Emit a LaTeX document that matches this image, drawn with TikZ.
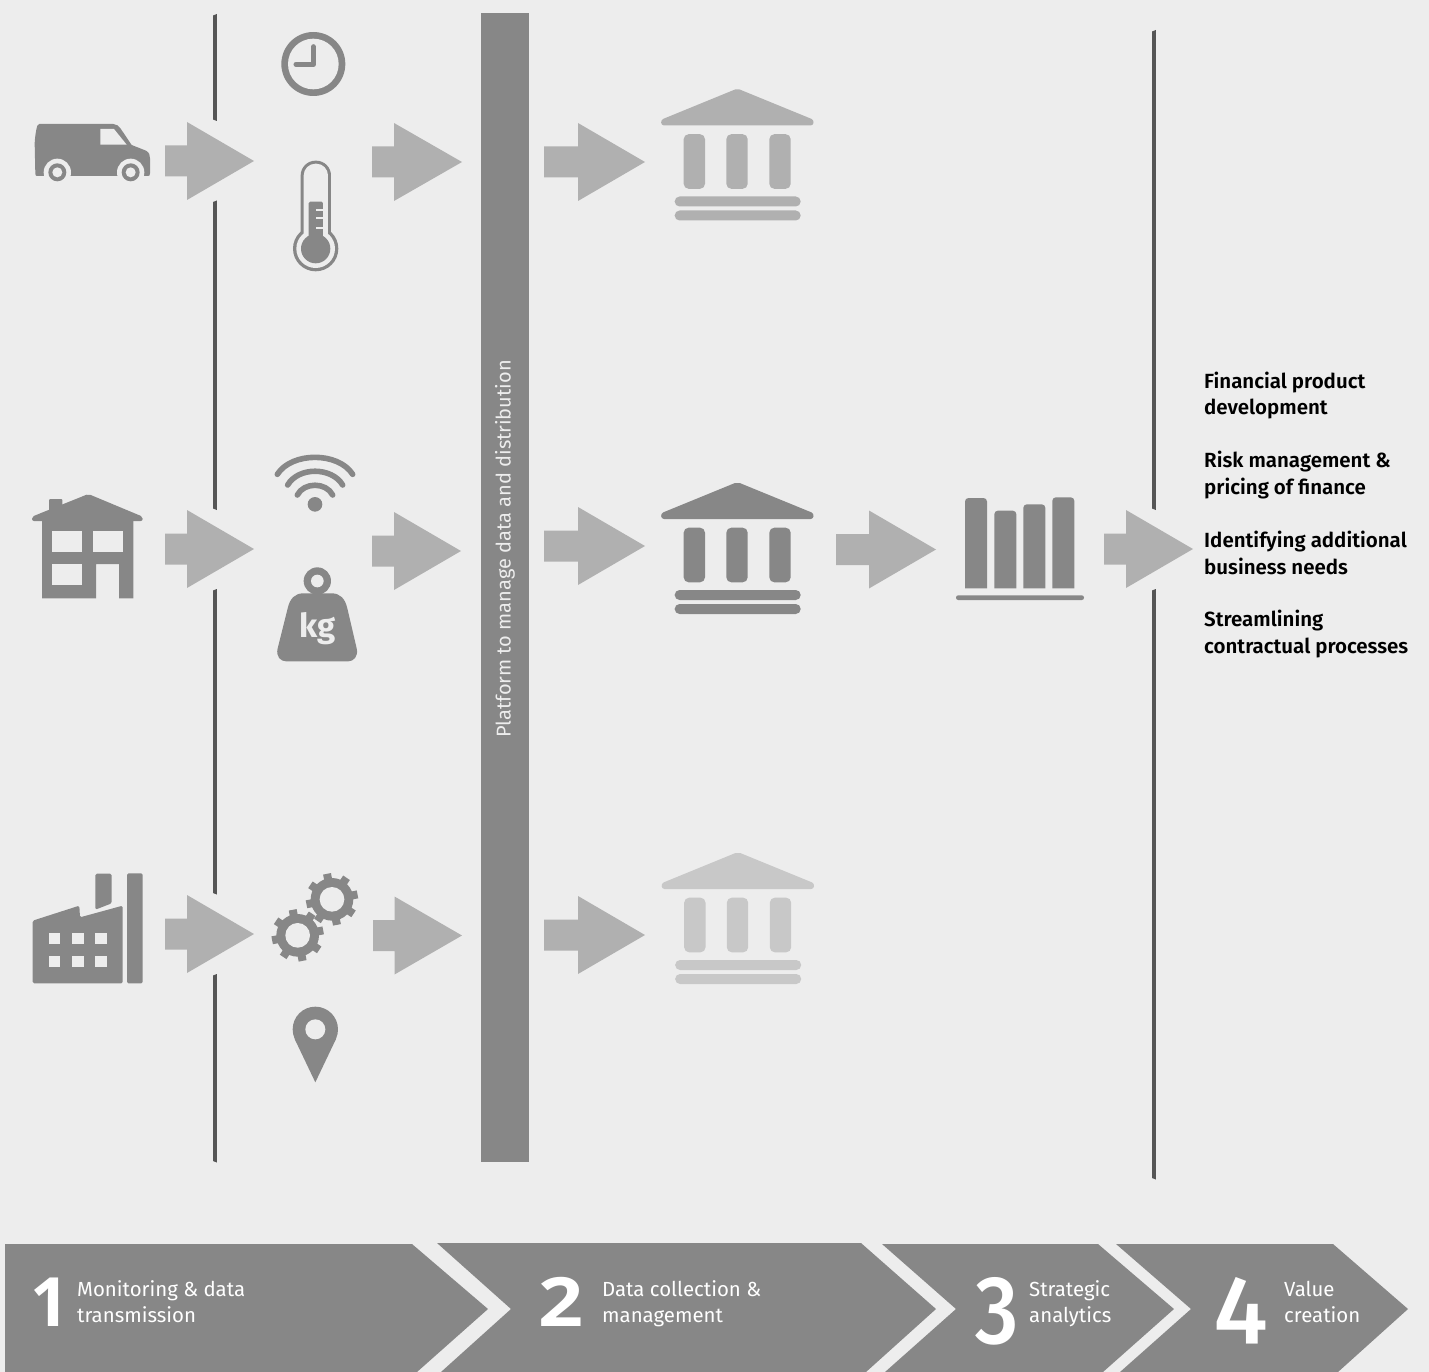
\documentclass[tikz,border=0pt]{standalone}
\usepackage{fontspec}
\setmainfont{Fira Sans}[BoldFont={Fira Sans SemiBold}]
\newfontfamily\kgbold{Fira Sans Bold}
\newfontfamily\digitbold{Open Sans}[BoldFont={Open Sans Bold}]
\newfontfamily\digitmid{Fira Sans Medium}[Numbers=OldStyle]
\definecolor{bgc}{HTML}{EDEDED}
\definecolor{icon}{HTML}{878787}
\definecolor{arrowc}{HTML}{B0B0B0}
\definecolor{rule}{HTML}{555555}
\definecolor{fainta}{HTML}{B0B0B0}
\definecolor{faintb}{HTML}{C8C8C8}
\tikzset{
  ic/.style={fill=icon,draw=none},
  hole/.style={fill=bgc,draw=none},
  blockarrow/.style={fill=arrowc,draw=none},
  rulebar/.style={fill=rule,draw=none},
  chevron/.style={fill=icon,draw=none},
  bigdigit/.style={text=white,inner sep=0pt,anchor=base,transform shape},
  steptext/.style={text=white,inner sep=0pt,align=left,anchor=west,font=\fontsize{20.4}{26}\selectfont},
  valuetext/.style={text=black,inner sep=0pt,align=left,anchor=west,font=\fontsize{20.5}{26.3}\selectfont\bfseries},
}
% x0, xm, xtip, yc
\newcommand{\BlockArrow}[4]{\fill[blockarrow] (#1,#4-15.5) -- (#2,#4-15.5) -- (#2,#4-39) -- (#3,#4) -- (#2,#4+39) -- (#2,#4+15.5) -- (#1,#4+15.5) -- cycle;}
% x, y top, y bottom : rule segment with slanted cut at both ends
\newcommand{\RuleSeg}[3]{\fill[rulebar] (#1,#2+1.5) -- (#1+3.8,#2) -- (#1+3.8,#3+1.5) -- (#1,#3) -- cycle;}
% dx, dy, colour
\newcommand{\Temple}[3]{\begin{scope}[shift={(640+#1,470+#2)},scale=1/3]
  \fill[#3] (72,147) .. controls (62,147) and (60,131) .. (70,127) -- (285,39) .. controls (290,37) and (294,37) .. (299,39) -- (514,127) .. controls (524,131) and (522,147) .. (512,147) -- cycle;
  \fill[#3,rounded corners=5pt] (131,173) rectangle (195,337);
  \fill[#3,rounded corners=5pt] (259,173) rectangle (323,337);
  \fill[#3,rounded corners=5pt] (388,173) rectangle (452,337);
  \fill[#3,rounded corners=4.9pt] (104,360) rectangle (482,390);
  \fill[#3,rounded corners=4.9pt] (104,402) rectangle (482,432);
\end{scope}}
\newcommand{\Gear}[2]{%
  \fill[ic] (#1,#2) circle (64);
  \foreach \a in {-11,34,...,304} {\draw[icon,line width=8pt] ({#1+50*cos(\a)},{#2+50*sin(\a)}) -- ({#1+78*cos(\a)},{#2+78*sin(\a)});}
  \fill[hole] (#1,#2) circle (37);}
\newcommand{\Bar}[3]{\fill[ic] (#1,355) [rounded corners=3.5pt] -- (#1,#3) -- (#2,#3) [sharp corners] -- (#2,355) -- cycle;}
\begin{document}
\begin{tikzpicture}[x=1pt,y=-1pt]
\useasboundingbox (0,0) rectangle (1429,1372);
\fill[bgc] (0,0) rectangle (1429,1372);

% rules
\RuleSeg{213}{14}{119.5}
\RuleSeg{213}{200.5}{508.5}
\RuleSeg{213}{589}{893}
\RuleSeg{213}{974}{1161}
\RuleSeg{1152}{30}{508.5}
\RuleSeg{1152}{589}{1178}

% platform bar
\fill[ic] (481,13) rectangle (529,1162);
\node[rotate=90,text=bgc,inner sep=0pt,font=\fontsize{20}{24}\selectfont] (platform) at (505,549) {Platform to manage data and distribution};

% block arrows
\BlockArrow{165}{187}{254}{161}
\BlockArrow{372}{394}{462}{162}
\BlockArrow{544}{578}{645}{162}
\BlockArrow{165}{187}{254}{549}
\BlockArrow{372}{394}{461}{551}
\BlockArrow{544}{578}{645}{546}
\BlockArrow{836}{869}{936}{549.5}
\BlockArrow{1104}{1126}{1193}{549}
\BlockArrow{165}{187}{254}{934}
\BlockArrow{373}{394.5}{462}{935.5}
\BlockArrow{544}{578}{645}{935}

% van and clock and thermometer
\begin{scope}[shift={(20,10)},scale=1/3]
  \fill[ic] (58,342) -- (280,342) .. controls (290,342) and (296,348) .. (302,356) -- (335,405) -- (378,422) .. controls (388,428) and (390,435) .. (390,445) -- (390,490) .. controls (390,496) and (388,498) .. (384,498) -- (50,498) .. controls (47,498) and (46,494) .. (46,490) -- (44,400) .. controls (45,380) and (48,360) .. (52,347) -- cycle;
  \fill[hole] (241,357) -- (282,357) -- (320,404) -- (241,404) -- cycle;
  \fill[hole] (112,487) circle (41);
  \fill[hole] (332,487) circle (41);
  \fill[ic] (112,487) circle (27);
  \fill[ic] (332,487) circle (27);
  \fill[hole] (112,487) circle (15);
  \fill[hole] (332,487) circle (15);
  % clock
  \fill[ic] (880,162) circle (96);
  \fill[hole] (880,162) circle (76);
  \draw[icon,line width=5pt,line cap=round,line join=round] (880,110) -- (880,163) -- (828,163);
  % thermometer
  \fill[ic] (887,716) circle (68);
  \fill[ic,rounded corners=14.8pt] (842,452) rectangle (933,730);
  \fill[hole] (887,716) circle (58);
  \fill[hole,rounded corners=11.8pt] (851,461) rectangle (924,730);
  \fill[ic] (887,716) circle (44);
  \fill[ic,rounded corners=1.5pt] (866,575) rectangle (909,700);
  \fill[hole] (887,598) rectangle (909,604);
  \fill[hole] (887,622) rectangle (909,628);
  \fill[hole] (887,650) rectangle (909,656);
\end{scope}

% house, wifi, weight
\begin{scope}[shift={(20,440)},scale=1/3]
  \fill[ic,rounded corners=1pt] (87,177) rectangle (127,215);
  \fill[ic,rounded corners=2pt] (36,243) -- (36,230) -- (205,162) -- (368,230) -- (368,243) -- cycle;
  \fill[ic] (66,240) -- (340,240) -- (340,475) -- (297,475) -- (297,372) -- (228,372) -- (228,475) -- (66,475) -- cycle;
  \fill[hole] (95,274) rectangle (187,337);
  \fill[hole] (218,274) rectangle (309,337);
  \fill[hole] (95,372) rectangle (187,435);
  \fill[ic] (885,193) circle (22);
  \begin{scope}[icon,line width=5.6pt,line cap=round]
    \draw (772,103) .. controls (815,35) and (955,35) .. (998,103);
    \draw (803,135) .. controls (835,80) and (935,80) .. (968,135);
    \draw (832,165) .. controls (852,126) and (918,126) .. (938,165);
  \end{scope}
  \fill[ic] (892,423) circle (41);
  \fill[hole] (892,423) circle (19);
  \fill[ic] (850,460) -- (935,460) .. controls (960,460) and (975,475) .. (982,505) -- (1010,625) .. controls (1016,650) and (1000,664) .. (985,664) -- (798,664) .. controls (782,664) and (767,650) .. (773,625) -- (803,505) .. controls (810,475) and (825,460) .. (850,460) -- cycle;
  \node[text=bgc,inner sep=0pt,font=\fontsize{33}{33}\kgbold] (kg) at (892,566) {kg};
\end{scope}

% factory, gears, pin
\begin{scope}[shift={(20,860)},scale=1/3]
  \fill[ic,rounded corners=1.5pt] (38,182) -- (178,137) -- (180,172) -- (308,137) -- (308,370) -- (38,370) -- cycle;
  \fill[ic,rounded corners=1.5pt] (226,41) -- (275,41) -- (275,130) -- (226,149) -- cycle;
  \fill[ic,rounded corners=1.5pt] (321,40) rectangle (368,370);
  \foreach \cx in {87,157,226} {\foreach \cy in {218,289} {\fill[hole] (\cx,\cy) rectangle (\cx+34,\cy+33);}}
  \Gear{833}{226}
  \Gear{936}{118}
  \fill[ic] (886,508) circle (68);
  \fill[ic] (886,667) -- (824,537) -- (948,537) -- cycle;
  \fill[hole] (886,508) circle (30);
\end{scope}

% temples
\Temple{0}{-393.5}{fainta}
\Temple{0}{0}{icon}
\Temple{0.5}{370}{faintb}

% bar chart
\begin{scope}[shift={(640,470)},scale=1/3]
  \Bar{975}{1041}{84}
  \Bar{1063}{1129}{122}
  \Bar{1150}{1216}{103}
  \Bar{1237}{1303}{82}
  \fill[ic,rounded corners=2.2pt] (948,376) rectangle (1332,390);
\end{scope}

% value texts
\node[valuetext] (v1) at (1204,395.5) {Financial product\\development};
\node[valuetext] (v2) at (1204,475) {Risk management \&\\pricing of finance};
\node[valuetext] (v3) at (1204,553) {Identifying additional\\business needs};
\node[valuetext] (v4) at (1204,634) {Streamlining\\contractual processes};

% chevrons
\fill[chevron] (5,1244) -- (412,1244) -- (488,1309) -- (417,1372) -- (5,1372) -- cycle;
\fill[chevron] (437,1243) -- (861,1243) -- (936,1309) -- (866,1372) -- (441,1372) -- (511,1309) -- cycle;
\fill[chevron] (882,1244) -- (1098,1244) -- (1174,1309) -- (1103,1372) -- (885,1372) -- (956,1309) -- cycle;
\fill[chevron] (1116,1244) -- (1333,1244) -- (1408,1309) -- (1338,1372) -- (1120,1372) -- (1191,1309) -- cycle;

\node[bigdigit,font=\fontsize{68}{68}\digitbold\bfseries] (n1) at (49.5,1326.5) {1};
\node[bigdigit,xscale=1.16,font=\fontsize{68}{68}\digitbold\bfseries] (n2) at (561,1326.5) {2};
\node[bigdigit,xscale=.88,font=\fontsize{97}{97}\digitmid] (n3) at (996.5,1333) {3};
\node[bigdigit,font=\fontsize{97}{97}\digitmid] (n4) at (1241,1333) {4};
\node[steptext] (t1) at (77,1302) {Monitoring \& data\\transmission};
\node[steptext] (t2) at (602,1304) {Data collection \&\\management};
\node[steptext] (t3) at (1029,1304) {Strategic\\analytics};
\node[steptext] (t4) at (1284,1302) {Value\\creation};
\end{tikzpicture}
\end{document}
